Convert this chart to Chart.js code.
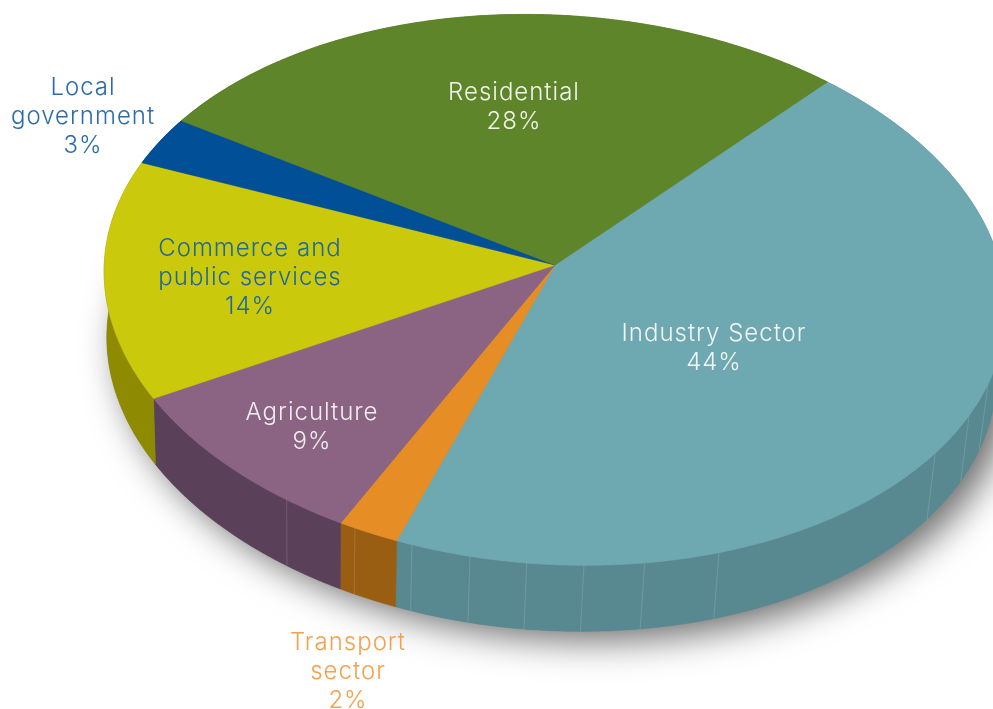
<!DOCTYPE html>
<html><head><meta charset="utf-8">
<style>html,body{margin:0;padding:0;background:#fff}canvas{display:block}</style>
<script src="https://cdn.jsdelivr.net/npm/chart.js@4"></script>
</head><body>
<canvas id="c" width="993" height="709"></canvas>
<script>
const categories = ['Industry Sector','Transport sector','Agriculture','Commerce and public services','Local government','Residential'];
const shares = [44,2,9,14,3,28];
const topColors = ['#6EA8B1','#E68D26','#8A6482','#CBC90C','#004F97','#5E8529'];
const wallColors = ['#588890','#9A5E12','#5A4058','#8E8B02','#003A70','#46641E'];
const seamRimX = [287,355,412,470,527,584,645,719,935,969,988];
const labelLines = [['Industry Sector','44%'],['Transport','sector','2%'],['Agriculture','9%'],['Commerce and','public services','14%'],['Local','government','3%'],['Residential','28%']];
const labelAnchors = [[714,334],[348,643],[312,413],[250,249],[83,88],[514,93]];
const labelColors = ['#F1F5F5','#F4A04D','#F1EDF0','#20689A','#2A6BAE','#F2F4EC'];

const persp=-0.0906, sx=449/265, sy=272.6/265, shear=0.041, depth=66, narrow=0.987, narrowFromApex=250;
function rimPoint(a,ang){
  const u=Math.cos(ang), v=Math.sin(ang), w=1+persp*v;
  const dx=a.outerRadius*sx*u/w, dy=a.outerRadius*sy*v/w;
  return [a.x+dx, a.y+dy+shear*dx];
}
function lowPoint(a,ang){
  const p=rimPoint(a,ang), x0=a.x-narrowFromApex;
  return [x0+(p[0]-x0)*narrow, p[1]+depth];
}
function rimPath(ctx,a,s,e,fn,move){
  const n=Math.max(2,Math.ceil(Math.abs(e-s)/0.01));
  for(let i=0;i<=n;i++){
    const t=s+(e-s)*i/n, p=fn(a,t);
    if(i===0&&move) ctx.moveTo(p[0],p[1]); else ctx.lineTo(p[0],p[1]);
  }
}
Chart.ArcElement.prototype.draw=function(ctx){
  const col=this.options.backgroundColor;
  ctx.save();
  ctx.beginPath();
  ctx.moveTo(this.x,this.y);
  rimPath(ctx,this,this.startAngle,this.endAngle,rimPoint,false);
  ctx.closePath();
  ctx.fillStyle=col; ctx.fill();
  ctx.strokeStyle=col; ctx.lineWidth=0.6; ctx.stroke();
  ctx.restore();
};
const walls={id:'walls',beforeDatasetsDraw(chart){
  const ctx=chart.ctx, arcs=chart.getDatasetMeta(0).data, a0=arcs[0];
  ctx.save();
  ctx.shadowColor='rgba(0,0,0,0.58)'; ctx.shadowBlur=36; ctx.shadowOffsetX=13; ctx.shadowOffsetY=9;
  ctx.fillStyle='#888';
  ctx.beginPath(); rimPath(ctx,a0,0,Math.PI*2,lowPoint,true); ctx.closePath(); ctx.fill();
  ctx.restore();
  arcs.forEach((a,i)=>{
    ctx.beginPath();
    rimPath(ctx,a,a.startAngle,a.endAngle,rimPoint,true);
    rimPath(ctx,a,a.endAngle,a.startAngle,lowPoint,false);
    ctx.closePath();
    ctx.fillStyle=wallColors[i]; ctx.fill();
    ctx.strokeStyle=wallColors[i]; ctx.lineWidth=0.5; ctx.stroke();
  });
  ctx.save();
  ctx.strokeStyle='rgba(255,255,255,0.14)'; ctx.lineWidth=1;
  seamRimX.forEach(x=>{
    let best=0,bd=1e9;
    for(let t=0;t<Math.PI;t+=0.002){const d=Math.abs(rimPoint(a0,t)[0]-x); if(d<bd){bd=d;best=t;}}
    const p=rimPoint(a0,best), q=lowPoint(a0,best);
    ctx.beginPath(); ctx.moveTo(p[0],p[1]); ctx.lineTo(q[0],q[1]); ctx.stroke();
  });
  ctx.restore();
}};
const sliceLabels={id:'sliceLabels',afterDatasetsDraw(chart){
  const ctx=chart.ctx;
  ctx.save();
  ctx.font='300 24px Inter';
  ctx.letterSpacing='1px';
  ctx.textAlign='center'; ctx.textBaseline='middle';
  labelLines.forEach((lines,i)=>{
    ctx.fillStyle=labelColors[i];
    lines.forEach((t,j)=>ctx.fillText(t,labelAnchors[i][0],labelAnchors[i][1]+j*28.8));
  });
  ctx.restore();
}};
new Chart(document.getElementById('c'),{
  type:'pie',
  data:{labels:categories,datasets:[{data:shares,backgroundColor:topColors,borderWidth:0}]},
  options:{responsive:false,animation:false,rotation:40.4,
    layout:{padding:{left:117,right:0,top:0,bottom:179}},
    plugins:{legend:{display:false},tooltip:{enabled:false}}},
  plugins:[walls,sliceLabels]
});
</script>
</body></html>
